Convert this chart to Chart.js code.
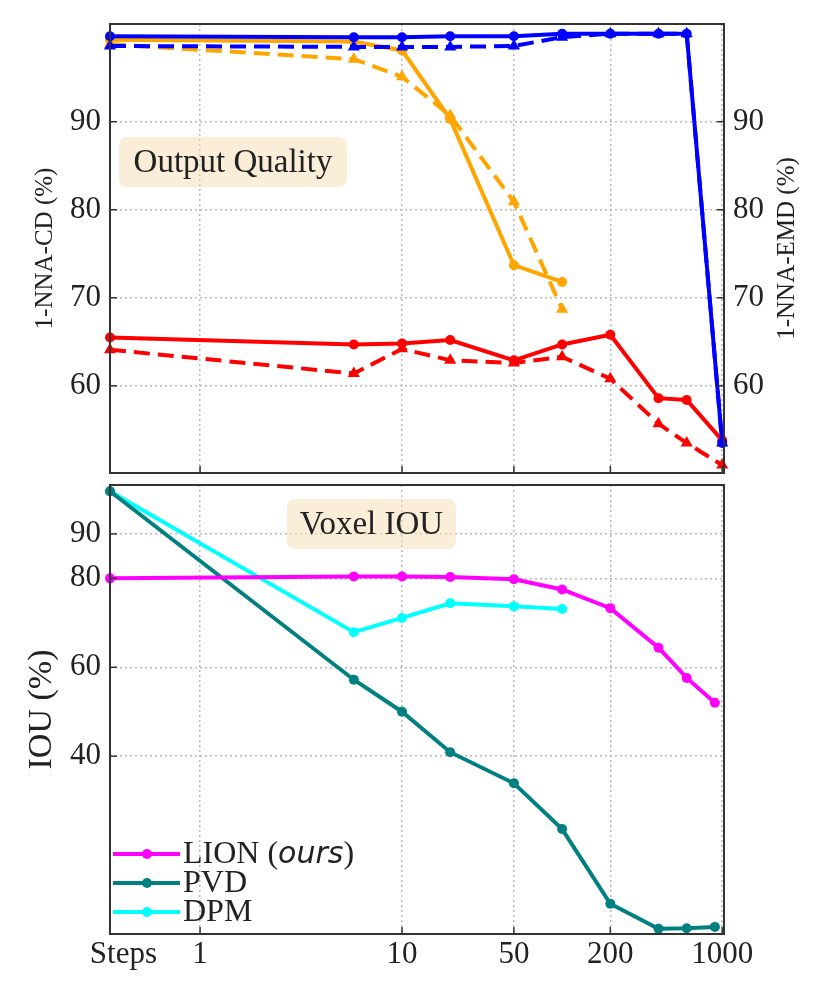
<!DOCTYPE html>
<html>
<head>
<meta charset="utf-8">
<script src="https://cdn.jsdelivr.net/npm/chart.js@4.4.1/dist/chart.umd.min.js"></script>
<style>
  html, body { margin: 0; padding: 0; background: #fff; }
  #wrap { position: relative; width: 830px; height: 997px; }
  #qualityChart { position: absolute; left: 0; top: 0; }
  #iouChart { position: absolute; left: 0; top: 480px; }
</style>
</head>
<body>
<div id="wrap">
  <canvas id="qualityChart" width="830" height="480"></canvas>
  <canvas id="iouChart" width="830" height="517"></canvas>
</div>
<script>
// sampling steps (log axis); first point sits at the left edge of the plot
const stepsCD = [0.15, 5, 10, 20, 50, 100, 200, 400, 600, 1000];
const stepsDPM = [0.15, 5, 10, 20, 50, 100];
const stepsIOU = [0.15, 5, 10, 20, 50, 100, 200, 400, 600, 900];

// top panel: 1-NNA (%), solid = CD, dashed = EMD
const lionCD = [99.7, 99.6, 99.6, 99.7, 99.7, 100.0, 100.0, 100.0, 100.0, 53.5];
const lionEMD = [98.6, 98.5, 98.5, 98.5, 98.6, 99.6, 100.0, 100.0, 100.0, 53.5];
const dpmCD = [99.3, 99.1, 98.1, 90.3, 73.7, 71.8];
const dpmEMD = [98.8, 97.1, 95.1, 90.7, 80.9, 68.7];
const pvdCD = [65.5, 64.7, 64.8, 65.2, 62.9, 64.7, 65.8, 58.6, 58.4, 53.8];
const pvdEMD = [64.1, 61.4, 64.2, 62.9, 62.6, 63.3, 60.8, 55.7, 53.5, 51.0];

// bottom panel: voxel IOU (%)
const lionIOU = [80.0, 80.4, 80.4, 80.3, 79.8, 77.5, 73.3, 64.4, 57.6, 52.0];
const pvdIOU = [99.6, 57.2, 50.0, 40.9, 33.9, 23.6, 6.8, 1.2, 1.3, 1.6];
const dpmIOU = [99.6, 67.9, 71.1, 74.4, 73.7, 73.1];

const xTickSteps = [0.182, 0.548, 10, 50, 200, 1000];
const xTickLabels = ['Steps', '1', '10', '50', '200', '1000'];
const cdTicks = [60, 70, 80, 90];
const iouTicks = [40, 60, 80, 90];

const SERIF = "'Liberation Serif', 'DejaVu Serif', serif";
const INK = '#222';
const GRID = '#b8b8b8';

Chart.defaults.font.family = SERIF;
Chart.defaults.color = INK;

function pts(xs, ys) {
  return ys.map((y, i) => ({ x: xs[i], y }));
}

function line(label, xs, ys, color, dashed, axis) {
  return {
    label,
    data: pts(xs, ys),
    yAxisID: axis || 'y',
    borderColor: color,
    backgroundColor: color,
    borderWidth: 4,
    borderDash: dashed ? [16, 8] : [],
    pointStyle: dashed ? 'triangle' : 'circle',
    pointRadius: dashed ? 7 : 5,
    pointBorderWidth: 0,
    clip: false
  };
}

function fixTicks(values) {
  return (scale) => { scale.ticks = values.map((v) => ({ value: v })); };
}

// pin the axis box size and drop the label overhang padding so both panels line up
function fitBox(size) {
  return (s) => {
    if (s.isHorizontal()) s.height = size; else s.width = size;
    s.paddingTop = 0; s.paddingBottom = 0; s.paddingLeft = 0; s.paddingRight = 0;
  };
}

const gridColor = (ctx) => (ctx.tick && ctx.tick.value < 0.3 ? 'rgba(0,0,0,0)' : GRID);

const decorations = {
  id: 'decorations',
  afterDatasetsDraw(chart, args, opts) {
    const { ctx, chartArea: a } = chart;
    ctx.save();
    ctx.strokeStyle = '#333';
    ctx.lineWidth = 1.5;
    Object.values(chart.scales).forEach((s) => {
      s.ticks.forEach((t) => {
        if (t.value < 0.3) return;
        const p = s.getPixelForValue(t.value);
        ctx.beginPath();
        if (s.axis === 'x') {
          ctx.moveTo(p, a.bottom); ctx.lineTo(p, a.bottom - 7);
        } else if (s.position === 'left') {
          ctx.moveTo(a.left, p); ctx.lineTo(a.left + 7, p);
        } else {
          ctx.moveTo(a.right, p); ctx.lineTo(a.right - 7, p);
        }
        ctx.stroke();
      });
    });
    ctx.lineWidth = 2;
    ctx.strokeRect(a.left, a.top, a.right - a.left, a.bottom - a.top);

    const b = opts.box;
    if (b) {
      ctx.fillStyle = 'rgba(245, 222, 179, 0.5)';
      ctx.beginPath();
      ctx.roundRect(a.left + b.dx, a.top + b.dy, b.w, b.h, 8);
      ctx.fill();
      ctx.fillStyle = INK;
      ctx.font = '33px ' + SERIF;
      ctx.textAlign = 'center';
      ctx.textBaseline = 'middle';
      ctx.fillText(b.text, a.left + b.dx + b.w / 2, a.top + b.dy + b.h / 2 + 1);
    }

    if (opts.rightTitle) {
      ctx.save();
      ctx.translate(787, (a.top + a.bottom) / 2);
      ctx.rotate(-Math.PI / 2);
      ctx.fillStyle = INK;
      ctx.font = '25px ' + SERIF;
      ctx.textAlign = 'center';
      ctx.textBaseline = 'middle';
      ctx.fillText(opts.rightTitle, 0, 0);
      ctx.restore();
    }

    if (opts.legend) {
      chart.data.datasets.forEach((ds, i) => {
        const y = a.bottom - 80 + i * 29;
        ctx.strokeStyle = ds.borderColor;
        ctx.lineWidth = 4;
        ctx.beginPath();
        ctx.moveTo(113, y); ctx.lineTo(180, y);
        ctx.stroke();
        ctx.fillStyle = ds.borderColor;
        ctx.beginPath();
        ctx.arc(147, y, 5, 0, Math.PI * 2);
        ctx.fill();
        ctx.fillStyle = INK;
        ctx.textAlign = 'left';
        ctx.textBaseline = 'middle';
        let x = 183;
        const m = ds.label.match(/^(.*\()(ours)(\))$/);
        const parts = m
          ? [[m[1], '32px ' + SERIF], [m[2], "italic 30px 'DejaVu Sans', sans-serif"], [m[3], '32px ' + SERIF]]
          : [[ds.label, '32px ' + SERIF]];
        parts.forEach(([txt, font]) => {
          ctx.font = font;
          ctx.fillText(txt, x, y + 1);
          x += ctx.measureText(txt).width;
        });
      });
    }
    ctx.restore();
  }
};

const xBase = {
  type: 'logarithmic',
  min: 0.15,
  max: 1026,
  afterBuildTicks: fixTicks(xTickSteps),
  grid: { color: gridColor, lineWidth: 1.5, drawTicks: false },
  border: { display: false, dash: [2, 3] }
};

new Chart(document.getElementById('qualityChart'), {
  type: 'line',
  data: {
    datasets: [
      line('LION CD', stepsCD, lionCD, '#0000ff', false),
      line('LION EMD', stepsCD, lionEMD, '#0000ff', true, 'y2'),
      line('DPM CD', stepsDPM, dpmCD, '#ffa500', false),
      line('DPM EMD', stepsDPM, dpmEMD, '#ffa500', true, 'y2'),
      line('PVD CD', stepsCD, pvdCD, '#ff0000', false),
      line('PVD EMD', stepsCD, pvdEMD, '#ff0000', true, 'y2')
    ]
  },
  options: {
    responsive: false,
    animation: false,
    layout: { padding: { top: 24, left: 0, right: 0, bottom: 0 } },
    plugins: {
      legend: { display: false },
      tooltip: { enabled: false },
      decorations: {
        box: { dx: 9, dy: 113, w: 228, h: 50, text: 'Output Quality' },
        rightTitle: '1-NNA-EMD (%)'
      }
    },
    scales: {
      x: {
        ...xBase,
        afterBuildTicks: fixTicks(xTickSteps.slice(1)),
        ticks: { display: false },
        afterFit: fitBox(3)
      },
      y: {
        position: 'left',
        min: 50.1,
        max: 101.1,
        afterBuildTicks: fixTicks(cdTicks),
        ticks: { font: { size: 31 }, padding: 9 },
        grid: { color: GRID, lineWidth: 1.5, drawTicks: false },
        border: { display: false, dash: [2, 3] },
        title: { display: true, text: '1-NNA-CD (%)', font: { size: 25 }, padding: { top: 30, bottom: 0 } },
        afterFit: fitBox(110)
      },
      y2: {
        position: 'right',
        min: 50.1,
        max: 101.1,
        afterBuildTicks: fixTicks(cdTicks),
        ticks: { font: { size: 31 }, padding: 9 },
        grid: { drawOnChartArea: false, drawTicks: false },
        border: { display: false },
        afterFit: fitBox(106)
      }
    }
  },
  plugins: [decorations]
});

new Chart(document.getElementById('iouChart'), {
  type: 'line',
  data: {
    datasets: [
      line('LION (ours)', stepsIOU, lionIOU, '#ff00ff', false),
      line('PVD', stepsIOU, pvdIOU, '#008080', false),
      line('DPM', stepsDPM, dpmIOU, '#00ffff', false)
    ]
  },
  options: {
    responsive: false,
    animation: false,
    layout: { padding: { top: 2, left: 0, right: 106, bottom: 0 } },
    plugins: {
      legend: { display: false },
      tooltip: { enabled: false },
      decorations: {
        box: { dx: 177, dy: 14, w: 169, h: 50, text: 'Voxel IOU' },
        legend: true
      }
    },
    scales: {
      x: {
        ...xBase,
        ticks: {
          font: { size: 31 },
          padding: 2,
          autoSkip: false,
          maxRotation: 0,
          callback: (v, i) => xTickLabels[i]
        },
        afterFit: fitBox(63)
      },
      y: {
        position: 'left',
        min: 0,
        max: 101,
        afterBuildTicks: fixTicks(iouTicks),
        ticks: { font: { size: 31 }, padding: 9 },
        grid: { color: GRID, lineWidth: 1.5, drawTicks: false },
        border: { display: false, dash: [2, 3] },
        title: { display: true, text: 'IOU (%)', font: { size: 34 }, padding: { top: 22, bottom: 0 } },
        afterFit: fitBox(110)
      }
    }
  },
  plugins: [decorations]
});
</script>
</body>
</html>
